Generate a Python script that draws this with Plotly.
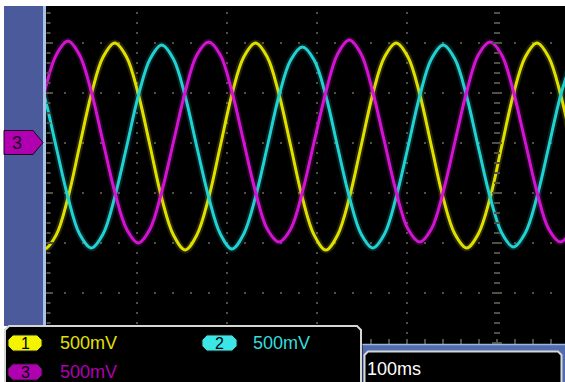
import plotly.graph_objects as go

W, H = 565, 382

time_ms = [-515.9, -502.9, -489.8, -476.8, -463.8, -450.7, -437.7, -424.7, -411.6, -398.6,
           -385.5, -372.6, -359.5, -346.5, -333.5, -320.4, -307.4, -294.4, -281.4, -268.3,
           -255.3, -242.3, -229.2, -216.2, -203.2, -190.1, -177.1, -164.1, -151.0, -138.0,
           -125.0, -112.0, -98.9, -85.9, -72.9, -59.8, -46.8, -33.8, -20.8, -7.7,
           5.3, 18.3, 31.4, 44.4, 57.4, 70.5, 83.5]

ch1_v = [-0.92, -1.06, -0.92, -0.55, -0.03, 0.49, 0.86, 1.00, 0.86, 0.49, -0.03, -0.55,
         -0.92, -1.07, -0.92, -0.55, -0.03, 0.49, 0.86, 1.00, 0.86, 0.49, -0.03, -0.55,
         -0.92, -1.07, -0.92, -0.55, -0.03, 0.49, 0.86, 1.00, 0.86, 0.49, -0.03, -0.55,
         -0.91, -1.05, -0.91, -0.55, -0.03, 0.49, 0.86, 1.00, 0.86, 0.49, -0.03]

ch2_v = [0.84, 0.47, -0.04, -0.54, -0.91, -1.05, -0.91, -0.54, -0.04, 0.47, 0.84, 0.98,
         0.84, 0.47, -0.04, -0.54, -0.91, -1.06, -0.91, -0.54, -0.04, 0.47, 0.83, 0.96,
         0.83, 0.47, -0.04, -0.54, -0.91, -1.05, -0.91, -0.54, -0.04, 0.47, 0.84, 0.98,
         0.84, 0.47, -0.04, -0.54, -0.90, -1.04, -0.90, -0.54, -0.04, 0.47, 0.84]

ch3_v = [0.01, 0.51, 0.88, 1.02, 0.88, 0.51, 0.01, -0.49, -0.86, -1.00, -0.86, -0.49,
         0.01, 0.51, 0.88, 1.01, 0.88, 0.51, 0.01, -0.49, -0.86, -0.99, -0.86, -0.49,
         0.01, 0.51, 0.89, 1.03, 0.89, 0.51, 0.01, -0.49, -0.86, -0.99, -0.86, -0.49,
         0.01, 0.51, 0.88, 1.01, 0.88, 0.51, 0.01, -0.49, -0.86, -0.99, -0.86]

channel_ids = ["1", "2", "3"]
channel_scales = ["500mV", "500mV", "500mV"]
timebase_label = "100ms"

# ---------------- styling ----------------
trace_colors = {"1": "#e0e000", "2": "#22d2d2", "3": "#d214d2"}
badge_colors = {"1": "#f4f400", "2": "#3ce6e6", "3": "#b000b0"}
text_colors = {"1": "#e2e200", "2": "#36dcdc", "3": "#b000b0"}
GRID = "#505046"
PANEL_BLUE = "#4b5a9b"
FONT = "Liberation Sans"


def px(x):
    return x / W


def py(y):
    return 1 - y / H


def path(points):
    s = "M " + " L ".join(f"{px(x):.5f},{py(y):.5f}" for x, y in points) + " Z"
    return s


fig = go.Figure()
series = {"1": ch1_v, "2": ch2_v, "3": ch3_v}
for cid in channel_ids:
    c = trace_colors[cid]
    fig.add_trace(go.Scatter(x=time_ms, y=series[cid], mode="lines",
                             line=dict(color=c, width=7, shape="spline"),
                             opacity=0.16, hoverinfo="skip", showlegend=False))
    fig.add_trace(go.Scatter(x=time_ms, y=series[cid], mode="lines",
                             line=dict(color=c, width=3, shape="spline"),
                             hoverinfo="skip", showlegend=False))

# x: 90 px per 100 ms, trigger (t=0) at x=497 px; y: 50 px per 0.5 V, 0 V at y=143 px
x_left = (46 - 497) / 0.9
x_right = (565 - 497) / 0.9
y_top = (143 - 6) / 100
y_bot = (143 - 382) / 100

shapes = []
# left blue panel and light edge
shapes.append(dict(type="rect", xref="paper", yref="paper", x0=px(4), x1=px(43), y0=py(326), y1=py(6),
                   fillcolor=PANEL_BLUE, line=dict(width=0), layer="above"))
shapes.append(dict(type="rect", xref="paper", yref="paper", x0=px(43), x1=px(46), y0=py(326), y1=py(6),
                   fillcolor="#a6c4e8", line=dict(width=0), layer="above"))
# left-edge minor ticks
shapes.append(dict(type="line", xref="paper", yref="paper", x0=px(48.5), x1=px(48.5), y0=py(6), y1=py(326),
                   line=dict(color=GRID, width=4, dash="0px,6px,2px,2px"), layer="above"))
# centre (trigger) axis ticks
shapes.append(dict(type="line", xref="x", yref="paper", x0=0, x1=0, y0=py(6), y1=py(344),
                   line=dict(color=GRID, width=6, dash="0px,6px,2px,2px"), layer="above"))
for gy in [43, 93, 143, 193, 243, 293]:
    shapes.append(dict(type="line", xref="paper", yref="paper", x0=px(46), x1=px(53), y0=py(gy), y1=py(gy),
                       line=dict(color=GRID, width=2), layer="above"))
for gy in [43, 93, 143, 193, 243, 293, 343]:
    shapes.append(dict(type="line", xref="paper", yref="paper", x0=px(492), x1=px(502), y0=py(gy), y1=py(gy),
                       line=dict(color=GRID, width=2), layer="above"))

# bottom-left channel panel
shapes.append(dict(type="path", xref="paper", yref="paper",
                   path=path([(5, 384), (5, 330), (9, 326), (357, 326), (361, 330), (361, 384)]),
                   fillcolor="black", line=dict(color="#d6d6d6", width=2), layer="above"))
# bottom-right timebase area
shapes.append(dict(type="rect", xref="paper", yref="paper", x0=px(362.5), x1=px(566), y0=py(383), y1=py(344),
                   fillcolor="#4e6cae", line=dict(width=0), layer="above"))
shapes.append(dict(type="line", xref="paper", yref="paper", x0=px(362.5), x1=px(566), y0=py(344.6), y1=py(344.6),
                   line=dict(color="#9cb6de", width=1.5), layer="above"))
shapes.append(dict(type="line", xref="paper", yref="paper", x0=px(370), x1=px(566), y0=py(341), y1=py(341),
                   line=dict(color=GRID, width=4, dash="2px,16px"), layer="above"))
shapes.append(dict(type="path", xref="paper", yref="paper",
                   path=path([(364.5, 386), (364.5, 355), (368, 351.5), (558, 351.5), (561.5, 355), (561.5, 386)]),
                   fillcolor="black", line=dict(color="#d6d6d6", width=2), layer="above"))


# channel badges
def badge(x0, y0, x1, y1, fill, c=5):
    return dict(type="path", xref="paper", yref="paper",
                path=path([(x0 + c, y0), (x1 - c, y0), (x1, y0 + c), (x1, y1 - c), (x1 - c, y1),
                           (x0 + c, y1), (x0, y1 - c), (x0, y0 + c)]),
                fillcolor=fill, line=dict(color="#202020", width=1), layer="above")


badge_pos = {"1": (8, 335, 42, 351), "2": (202, 335, 237, 351), "3": (8, 364, 42, 380)}
text_x = {"1": 60, "2": 253, "3": 60}
for cid in channel_ids:
    shapes.append(badge(*badge_pos[cid], badge_colors[cid]))

# channel 3 ground marker
shapes.append(dict(type="path", xref="paper", yref="paper",
                   path=path([(4, 130.5), (33, 130.5), (43, 142.5), (33, 154.5), (4, 154.5)]),
                   fillcolor="#b000b0", line=dict(color="#1a001a", width=1), layer="above"))

annotations = []
for cid, scale in zip(channel_ids, channel_scales):
    x0, y0, x1, y1 = badge_pos[cid]
    annotations.append(dict(xref="paper", yref="paper", x=px((x0 + x1) / 2), y=py((y0 + y1) / 2 + 0.5),
                            text=cid, showarrow=False, xanchor="center", yanchor="middle",
                            font=dict(family=FONT, size=16, color="black")))
    annotations.append(dict(xref="paper", yref="paper", x=px(text_x[cid] - 2), y=py((y0 + y1) / 2),
                            text=scale, showarrow=False, xanchor="left", yanchor="middle",
                            font=dict(family=FONT, size=18, color=text_colors[cid])))
annotations.append(dict(xref="paper", yref="paper", x=px(365), y=py(368.5), text=timebase_label,
                        showarrow=False, xanchor="left", yanchor="middle",
                        font=dict(family=FONT, size=18, color="white")))
annotations.append(dict(xref="paper", yref="paper", x=px(17), y=py(143), text="3",
                        showarrow=False, xanchor="center", yanchor="middle",
                        font=dict(family=FONT, size=18, color="#1a001a")))

fig.update_layout(
    width=W, height=H,
    margin=dict(l=0, r=0, t=0, b=0, pad=0),
    paper_bgcolor="white",
    plot_bgcolor="black",
    showlegend=False,
    shapes=shapes,
    annotations=annotations,
    xaxis=dict(domain=[px(46), 1], range=[x_left, x_right], tick0=0, dtick=100,
               showgrid=True, gridcolor=GRID, gridwidth=2, griddash="0px,6px,2px,2px",
               zeroline=False, showticklabels=False, showline=False, ticks="", fixedrange=True),
    yaxis=dict(domain=[0, py(6)], range=[y_bot, y_top], tick0=0, dtick=0.5,
               showgrid=True, gridcolor=GRID, gridwidth=2, griddash="2px,16px",
               zeroline=False, showticklabels=False, showline=False, ticks="", fixedrange=True),
)

fig.write_html("out.html", config={"displayModeBar": False},
               post_script="document.body.style.margin='0';document.body.style.overflow='hidden';")
